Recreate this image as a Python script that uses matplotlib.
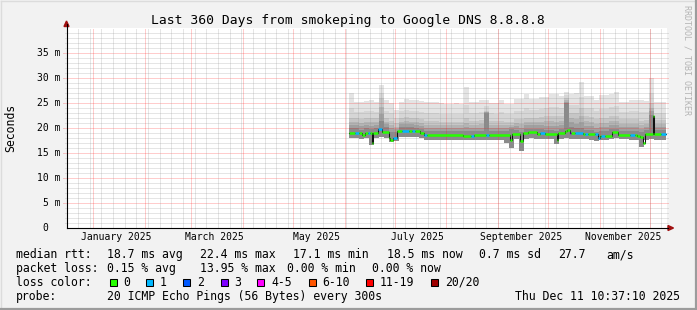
import datetime as dt
import matplotlib
matplotlib.use("Agg")
import matplotlib.pyplot as plt
import matplotlib.dates as mdates
import matplotlib.transforms as mtransforms
from matplotlib.patches import Polygon, Rectangle

W, H = 697, 310
MONO = "DejaVu Sans Mono"

t_end = dt.datetime(2025, 12, 11, 10, 37, 10)
t_start = t_end - dt.timedelta(days=360)
data_start = dt.datetime(2025, 6, 3, 22, 0)
data_end = dt.datetime(2025, 12, 10, 20, 0)

# smoke bands (ms), one value per 3 days from data_start
smoke_top = [27.0, 25.2, 25.2, 25.5, 25.6, 25.2, 28.6, 25.6, 25.1, 23.6,
             25.3, 25.9, 25.6, 25.6, 25.5, 25.3, 25.2, 25.3, 25.1, 24.9,
             24.9, 25.0, 24.9, 28.3, 25.2, 25.3, 25.7, 25.6, 25.1, 25.0,
             25.6, 24.9, 24.9, 25.9, 25.9, 26.9, 25.8, 25.8, 26.3, 26.3,
             26.9, 26.9, 26.5, 27.3, 26.9, 27.0, 29.3, 26.5, 26.5, 25.6,
             26.6, 26.6, 26.9, 27.3, 25.3, 25.3, 25.7, 25.7, 25.6, 25.4,
             30.0, 25.3, 25.3, 25.3]
smoke_mid = [22.0, 22.0, 21.8, 22.0, 22.0, 22.0, 26.0, 22.0, 21.5, 21.0,
             22.0, 22.2, 22.0, 22.0, 21.8, 21.5, 21.5, 21.5, 21.3, 21.3,
             21.3, 21.3, 21.3, 22.0, 21.5, 21.5, 21.6, 23.5, 21.5, 21.5,
             21.5, 21.3, 21.3, 21.8, 21.8, 22.0, 22.0, 22.0, 22.2, 22.5,
             22.5, 22.5, 22.5, 26.0, 23.0, 23.0, 24.0, 22.5, 22.3, 21.8,
             22.0, 22.0, 22.5, 22.5, 21.8, 21.8, 21.8, 21.8, 21.5, 21.6,
             25.0, 21.6, 21.6, 21.6]
smoke_core = [20.0, 20.0, 19.7, 20.0, 19.8, 20.0, 21.5, 20.2, 19.3, 19.2,
              20.2, 20.2, 20.2, 20.0, 19.8, 19.4, 19.4, 19.4, 19.4, 19.4,
              19.4, 19.4, 19.4, 19.4, 19.4, 19.4, 19.4, 23.0, 19.4, 19.4,
              19.4, 19.4, 19.8, 19.7, 19.3, 19.9, 19.9, 19.9, 19.8, 19.6,
              19.6, 19.4, 19.9, 25.0, 20.3, 20.0, 20.0, 19.6, 19.6, 19.2,
              19.4, 19.4, 19.9, 19.9, 19.5, 19.5, 19.5, 19.5, 19.2, 19.6,
              22.6, 19.6, 19.6, 19.6]
smoke_low = [18.0, 18.0, 17.9, 18.0, 16.6, 18.0, 18.3, 18.0, 17.2, 17.5,
             18.2, 18.3, 18.3, 18.2, 18.0, 17.7, 17.7, 17.7, 17.7, 17.7,
             17.7, 17.6, 17.6, 17.6, 17.6, 17.7, 17.7, 17.7, 17.7, 17.7,
             17.7, 17.0, 16.0, 17.8, 15.5, 17.9, 18.0, 17.9, 17.9, 17.8,
             17.8, 16.9, 17.9, 18.0, 17.9, 17.9, 17.9, 17.8, 17.7, 17.4,
             17.6, 17.6, 17.9, 18.0, 17.8, 17.8, 17.7, 17.6, 16.3, 17.6,
             17.8, 17.7, 17.7, 17.7]

# median rtt segments: start (days after data_start), value (ms), lost pings
med_day = [0, 3.3, 5.7, 7.5, 9.3, 11.1, 12.3, 13.5, 14.4, 17.1,
           19.5, 24.0, 24.6, 26.4, 28.5, 31.5, 35.7, 37.5, 39.3, 42.3,
           44.7, 46.5, 68.1, 72.9, 74.7, 81.9, 83.7, 96.3, 97.8, 102.6,
           104.1, 107.1, 112.5, 114.3, 117.3, 124.5, 125.4, 129.3, 130.5, 132.3,
           133.2, 135.3, 140.1, 141.3, 143.1, 147.3, 149.4, 150.3, 151.2, 153.3,
           157.5, 161.1, 168.3, 171.3, 172.5, 174.3, 176.1, 177.6, 182.1, 183.0,
           186.9]
med_ms = [19.1, 19.1, 19.1, 18.6, 19.1, 19.1, 19.1, 17.1, 19.1, 19.9,
          19.3, 18.1, 17.6, 18.1, 19.4, 19.4, 19.4, 19.4, 19.4, 19.1,
          18.6, 18.6, 18.5, 18.5, 18.6, 18.6, 18.6, 17.6, 18.9, 17.5,
          19.1, 19.2, 18.9, 19.1, 18.8, 17.7, 19.1, 19.5, 19.7, 19.1,
          19.1, 19.1, 18.8, 18.8, 18.8, 18.8, 18.1, 18.5, 18.5, 18.5,
          19.3, 18.7, 18.7, 18.7, 18.5, 18.3, 17.1, 18.8, 22.4, 18.8,
          18.8]
med_loss = [0, 1, 0, 0, 0, 1, 0, 0, 0, 1,
            0, 0, 0, 1, 0, 1, 0, 1, 0, 0,
            1, 0, 0, 1, 0, 1, 0, 0, 0, 0,
            0, 0, 0, 1, 0, 0, 0, 0, 0, 3,
            0, 1, 0, 1, 0, 1, 1, 0, 1, 0,
            0, 0, 1, 0, 0, 0, 0, 0, 0, 0,
            1]

loss_labels = ["0", "1", "2", "3", "4-5", "6-10", "11-19", "20/20"]
loss_colors = ["#26ff00", "#00b8ff", "#0059ff", "#7e00ff", "#ff00ff",
               "#ff5500", "#ff0000", "#a00000"]

rtt_names = ["avg", "max", "min", "now", "sd"]
rtt_values = [18.7, 22.4, 17.1, 18.5, 0.7]
am_s = 27.7
loss_names = ["avg", "max", "min", "now"]
loss_values = [0.15, 13.95, 0.00, 0.00]

month_labels = ["January 2025", "March 2025", "May 2025", "July 2025",
                "September 2025", "November 2025"]
month_label_dates = [dt.datetime(2025, m, 15) for m in (1, 3, 5, 7, 9, 11)]
ytick_values = [0, 5, 10, 15, 20, 25, 30, 35]

fig = plt.figure(figsize=(W / 100, H / 100), dpi=100, facecolor="#f2f2f2")
# pixel coordinates, y going down
pix = mtransforms.Affine2D().scale(1 / W, -1 / H).translate(0, 1) + fig.transFigure

ax = fig.add_axes([67 / W, 82 / H, 600 / W, 200 / H], facecolor="white")
for s in ax.spines.values():
    s.set_visible(False)
ax.set_xticks([])
ax.set_yticks([])
x0 = mdates.date2num(t_start)
x1 = mdates.date2num(t_end)
ax.set_xlim(x0, x1)
ax.set_ylim(0, 40)

# smoke
sx = [mdates.date2num(data_start + dt.timedelta(days=3 * i)) for i in range(len(smoke_top))]
sx.append(mdates.date2num(data_end))


def edge(a):
    return list(a) + [a[-1]]


def blend(a, b, f):
    return [u + (v - u) * f for u, v in zip(a, b)]


lo = edge(smoke_low)
ax.fill_between(sx, lo, edge(smoke_top), step="post", color="#e4e4e4", lw=0, zorder=1)
ax.fill_between(sx, lo, edge(blend(smoke_mid, smoke_top, 0.4)), step="post",
                color="#d6d6d6", lw=0, zorder=1)
ax.fill_between(sx, lo, edge(smoke_mid), step="post", color="#c6c6c6", lw=0, zorder=1)
for f, c in [(0.6, "#b4b4b4"), (0.3, "#a0a0a0"), (0.0, "#8a8a8a")]:
    ax.fill_between(sx, lo, edge(blend(smoke_core, smoke_mid, f)), step="post",
                    color=c, lw=0, zorder=1)

# grid
dots = (0, (1, 1))
minor_y = [v for v in range(1, 40) if v % 5]
major_y = [v for v in range(5, 40, 5)]
ax.hlines(minor_y, -0.004, 1.003, transform=ax.get_yaxis_transform(), colors="#909090",
          alpha=0.45, lw=0.72, linestyles=dots, clip_on=False, zorder=2)
ax.hlines(major_y, -0.007, 1.003, transform=ax.get_yaxis_transform(), colors="#ff2020",
          alpha=0.45, lw=0.72, linestyles=dots, clip_on=False, zorder=2)
mondays = []
d = dt.datetime(2024, 12, 23)
while d < t_end:
    mondays.append(mdates.date2num(d))
    d += dt.timedelta(days=7)
firsts = [mdates.date2num(dt.datetime(2025, m, 1)) for m in range(1, 13)]
ax.vlines(mondays, 0, 40, colors="#909090", alpha=0.45, lw=0.72, linestyles=dots, zorder=2)
ax.vlines(firsts, 0, 40, colors="#ff2020", alpha=0.45, lw=0.72, linestyles=dots, zorder=2)

# median line
mx = [mdates.date2num(data_start + dt.timedelta(days=v)) for v in med_day]
mx.append(mdates.date2num(data_end))
ax.step(mx, edge(med_ms), where="post", color="#111111", lw=0.75, zorder=3)
ax.hlines(med_ms, mx[:-1], mx[1:], colors=[loss_colors[k] for k in med_loss],
          lw=1.8, zorder=4, capstyle="butt")

# axes lines and arrows
fig.add_artist(plt.Line2D([66.5, 66.5], [228, 24], color="black", lw=0.8, transform=pix))
fig.add_artist(plt.Line2D([66.5, 668], [228, 228], color="black", lw=0.8, transform=pix))
fig.add_artist(Polygon([(64, 26.5), (69, 26.5), (66.5, 21)], closed=True, color="#a01010", transform=pix))
fig.add_artist(Polygon([(668, 225.5), (668, 230.5), (673.5, 228)], closed=True, color="#a01010", transform=pix))

# tick labels
for v in ytick_values:
    lab = f"{v} m" if v else "0"
    xr = 60.5 if v else 48.5
    fig.text(xr, 228 - 5 * v, lab, transform=pix, ha="right", va="center",
             family=MONO, fontsize=7.05)
for lab, dd in zip(month_labels, month_label_dates):
    xp = 67 + (mdates.date2num(dd) - x0) / (x1 - x0) * 600
    fig.text(xp, 240.5, lab, transform=pix, ha="center", va="baseline",
             family=MONO, fontsize=7.05)

# titles
fig.text(347.5, 24, "Last 360 Days from smokeping to Google DNS 8.8.8.8", transform=pix,
         ha="center", va="baseline", family=MONO, fontsize=9.35)
fig.text(10.5, 127.5, "Seconds", transform=pix, rotation=90, ha="center", va="center",
         family=MONO, fontsize=8.3)
fig.text(687.5, 60, "RRDTOOL / TOBI OETIKER", transform=pix, rotation=270, ha="center",
         va="center", family=MONO, fontsize=6.0, color="#b4b4b4")

# legend
fs = 8.3
fig.text(16, 258.3, "median rtt:", transform=pix, family=MONO, fontsize=fs)
for xp, v, n in zip([107.3, 200, 293.3, 386.7, 479.3], rtt_values, rtt_names):
    fig.text(xp, 258.3, f"{v:.1f} ms {n}", transform=pix, family=MONO, fontsize=fs)
fig.text(558.3, 258.3, f"{am_s:.1f}", transform=pix, family=MONO, fontsize=fs)
fig.text(606.7, 258.3, "am/s", transform=pix, family=MONO, fontsize=fs)

fig.text(16, 272.3, "packet loss:", transform=pix, family=MONO, fontsize=fs)
for xp, v, n in zip([107.3, 200, 286.7, 372.3], loss_values, loss_names):
    fig.text(xp, 272.3, f"{v:.2f} % {n}", transform=pix, family=MONO, fontsize=fs)

fig.text(16, 285.7, "loss color:", transform=pix, family=MONO, fontsize=fs)
swatch_x = [109, 145.7, 182.7, 220, 256.7, 308.3, 365, 430.7]
for xp, lab, c in zip(swatch_x, loss_labels, loss_colors):
    fig.add_artist(Rectangle((xp + 0.5, 278.5), 7, 7.5, facecolor=c, edgecolor="black",
                             lw=0.75, transform=pix))
    fig.text(xp + 14.3, 285.7, lab, transform=pix, family=MONO, fontsize=fs)

fig.text(16, 300, "probe:", transform=pix, family=MONO, fontsize=fs)
fig.text(107.3, 300, "20 ICMP Echo Pings (56 Bytes) every 300s", transform=pix,
         family=MONO, fontsize=fs)
fig.text(680, 300, t_end.strftime("%a %b %d %H:%M:%S %Y"), transform=pix, ha="right",
         family=MONO, fontsize=fs)

# frame
fig.add_artist(plt.Line2D([0.5, 696], [0.5, 0.5], color="#dcdcdc", lw=1, transform=pix))
fig.add_artist(plt.Line2D([0.5, 0.5], [0.5, 309], color="#dcdcdc", lw=1, transform=pix))
fig.add_artist(plt.Line2D([0, 697], [308.8, 308.8], color="#9c9c9c", lw=1.6, transform=pix))
fig.add_artist(plt.Line2D([695.8, 695.8], [0, 310], color="#9c9c9c", lw=1.6, transform=pix))

fig.savefig("out.png", dpi=100, facecolor=fig.get_facecolor())
